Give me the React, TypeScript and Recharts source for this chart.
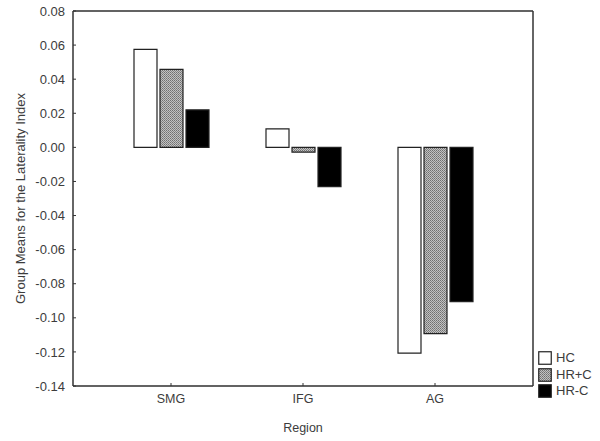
import React from 'react';
import { BarChart, Bar, XAxis, YAxis, CartesianGrid, ReferenceLine } from 'recharts';

// group means per region
const categories = ['SMG', 'IFG', 'AG'];
const hcValues = [0.0575, 0.0108, -0.1207];
const hrPlusCValues = [0.0458, -0.0028, -0.1093];
const hrMinusCValues = [0.022, -0.023, -0.0905];
const yTicks = [0.08, 0.06, 0.04, 0.02, 0, -0.02, -0.04, -0.06, -0.08, -0.1, -0.12, -0.14];

const data = categories.map((region, i) => ({
    region,
    hc: hcValues[i],
    hrPlusC: hrPlusCValues[i],
    hrMinusC: hrMinusCValues[i],
}));

const FONT = '"Liberation Sans", Arial, sans-serif';
const TEXT = '#3c3c3c';
const AXIS = '#333';

// fine mottled grey fill used for HR+C
const HatchDefs: React.FC<{ id: string }> = ({ id }) => (
    <defs>
        <pattern id={id} width="2" height="2" patternUnits="userSpaceOnUse">
            <rect width="2" height="2" fill="#c2c2c2" />
            <rect x="0" y="0" width="1" height="1" fill="#707070" />
            <rect x="1" y="1" width="1" height="1" fill="#858585" />
        </pattern>
    </defs>
);

const legendItems = [
    { label: 'HC', fill: '#fff' },
    { label: 'HR+C', fill: 'url(#hatchLegend)' },
    { label: 'HR-C', fill: '#000' },
];

const App: React.FC = () => {
    return (
        <div style={{ position: 'absolute', left: 0, top: 0, width: 600, height: 441, background: '#fff', fontFamily: FONT }}>
            <BarChart
                width={600}
                height={441}
                data={data}
                margin={{ top: 11, right: 0, left: 0, bottom: 0 }}
                barSize={23}
                barGap={3}
            >
                <HatchDefs id="hatchBar" />
                <CartesianGrid horizontal vertical={false} stroke="#e4e4e4" strokeWidth={1} />
                <XAxis
                    dataKey="region"
                    height={55}
                    padding={{ left: 32, right: 32 }}
                    axisLine={{ stroke: AXIS, strokeWidth: 1.5 }}
                    tickLine={{ stroke: AXIS }}
                    tickSize={-3}
                    tickMargin={11}
                    tick={{ fill: TEXT, fontSize: 12.5, fontFamily: FONT }}
                    label={{ value: 'Region', position: 'insideBottom', offset: 9, fill: TEXT, fontSize: 12.5, fontFamily: FONT }}
                />
                <YAxis
                    yAxisId="left"
                    width={73}
                    domain={[-0.14, 0.08]}
                    ticks={yTicks}
                    interval={0}
                    allowDataOverflow
                    tickFormatter={(v: number) => v.toFixed(2)}
                    axisLine={{ stroke: AXIS, strokeWidth: 1.5 }}
                    tickLine={{ stroke: AXIS }}
                    tickSize={-3}
                    tickMargin={11}
                    tick={{ fill: TEXT, fontSize: 13, fontFamily: FONT }}
                    label={{
                        value: 'Group Means for the Laterality Index',
                        angle: -90,
                        position: 'insideLeft',
                        offset: 20,
                        fill: TEXT,
                        fontSize: 13,
                        fontFamily: FONT,
                        style: { textAnchor: 'middle' },
                    }}
                />
                <YAxis
                    yAxisId="right"
                    orientation="right"
                    width={67}
                    domain={[-0.14, 0.08]}
                    ticks={yTicks}
                    interval={0}
                    axisLine={{ stroke: AXIS, strokeWidth: 1.5 }}
                    tickLine={{ stroke: AXIS }}
                    tickSize={-3}
                    tick={() => <g />}
                />
                <ReferenceLine yAxisId="left" y={0.08} stroke={AXIS} strokeWidth={1.5} />
                <Bar yAxisId="left" dataKey="hc" fill="#fff" stroke="#222" strokeWidth={1.2} isAnimationActive={false} />
                <Bar yAxisId="left" dataKey="hrPlusC" fill="url(#hatchBar)" stroke="#222" strokeWidth={1.2} isAnimationActive={false} />
                <Bar yAxisId="left" dataKey="hrMinusC" fill="#000" stroke="#222" strokeWidth={1.2} isAnimationActive={false} />
            </BarChart>
            <div style={{ position: 'absolute', left: 538, top: 350 }}>
                {legendItems.map(item => (
                    <div key={item.label} style={{ display: 'flex', alignItems: 'center', height: 16.5 }}>
                        <svg width={14} height={14} style={{ marginRight: 4 }}>
                            <HatchDefs id="hatchLegend" />
                            <rect x={0.75} y={0.75} width={12.5} height={12.5} fill={item.fill} stroke="#222" strokeWidth={1.2} />
                        </svg>
                        <span style={{ fontSize: 13, color: TEXT, lineHeight: '14px' }}>{item.label}</span>
                    </div>
                ))}
            </div>
        </div>
    );
};

export default App;
